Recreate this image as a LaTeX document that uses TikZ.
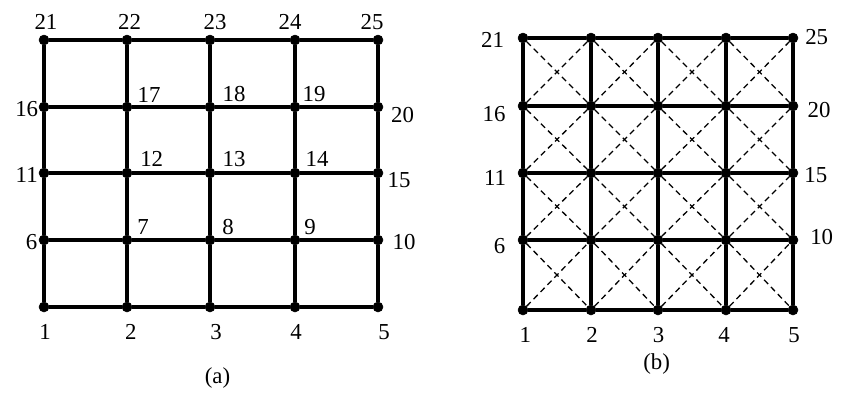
\documentclass[tikz,border=0pt]{standalone}
\usepackage{fontspec}
\setmainfont{Liberation Serif}
\begin{document}
\begin{tikzpicture}[x=0.03cm,y=-0.03cm]

      \tikzset{enclosed/.style={draw, circle, inner sep=0pt, minimum size=.3cm, fill=black},
               lbl/.style={inner sep=0pt, font=\fontsize{19.5}{23}\selectfont},
               solidedge/.style={line width=2.6pt},
               dashedge/.style={line width=1.1pt, dash pattern=on 5pt off 3.5pt}}
      \useasboundingbox (0,0) rectangle (859,409);
%% Vertices (a)
      	\node[enclosed, label={[lbl, shift={(2,-18)}]center:21}] (a21) at (44,40) {};
      	\node[enclosed, label={[lbl, shift={(2.5,-18)}]center:22}] (a22) at (127,40) {};
      	\node[enclosed, label={[lbl, shift={(5,-18)}]center:23}] (a23) at (210,40) {};
      	\node[enclosed, label={[lbl, shift={(-5,-18)}]center:24}] (a24) at (295,40) {};
      	\node[enclosed, label={[lbl, shift={(-6,-18)}]center:25}] (a25) at (378,40) {};
      	\node[enclosed, label={[lbl, shift={(-17.3,2.5)}]center:16}] (a16) at (44,107) {};
      	\node[enclosed, label={[lbl, shift={(22,-12.5)}]center:17}] (a17) at (127,107) {};
      	\node[enclosed, label={[lbl, shift={(24,-12.5)}]center:18}] (a18) at (210,107) {};
      	\node[enclosed, label={[lbl, shift={(19,-12.5)}]center:19}] (a19) at (295,107) {};
      	\node[enclosed, label={[lbl, shift={(24.5,8.5)}]center:20}] (a20) at (378,107) {};
      	\node[enclosed, label={[lbl, shift={(-17.3,2)}]center:11}] (a11) at (44,173) {};
      	\node[enclosed, label={[lbl, shift={(24.7,-14)}]center:12}] (a12) at (127,173) {};
      	\node[enclosed, label={[lbl, shift={(24,-14)}]center:13}] (a13) at (210,173) {};
      	\node[enclosed, label={[lbl, shift={(22,-14)}]center:14}] (a14) at (295,173) {};
      	\node[enclosed, label={[lbl, shift={(21,7)}]center:15}] (a15) at (378,173) {};
      	\node[enclosed, label={[lbl, shift={(-12.3,2)}]center:6}] (a6) at (44,240) {};
      	\node[enclosed, label={[lbl, shift={(16,-13)}]center:7}] (a7) at (127,240) {};
      	\node[enclosed, label={[lbl, shift={(18,-13)}]center:8}] (a8) at (210,240) {};
      	\node[enclosed, label={[lbl, shift={(15,-13)}]center:9}] (a9) at (295,240) {};
      	\node[enclosed, label={[lbl, shift={(26,2.5)}]center:10}] (a10) at (378,240) {};
      	\node[enclosed, label={[lbl, shift={(1,24.7)}]center:1}] (a1) at (44,307) {};
      	\node[enclosed, label={[lbl, shift={(3.8,24.7)}]center:2}] (a2) at (127,307) {};
      	\node[enclosed, label={[lbl, shift={(6,24.7)}]center:3}] (a3) at (210,307) {};
      	\node[enclosed, label={[lbl, shift={(1,24.7)}]center:4}] (a4) at (295,307) {};
      	\node[enclosed, label={[lbl, shift={(6,24.7)}]center:5}] (a5) at (378,307) {};
      	\node[lbl] (capa) at (217.5,378) {(a)};
%Edges (a)
		\draw[solidedge] (a1) -- (a2) -- (a3) -- (a4) -- (a5);
		\draw[solidedge] (a6) -- (a7) -- (a8) -- (a9) -- (a10);
		\draw[solidedge] (a11) -- (a12) -- (a13) -- (a14) -- (a15);
		\draw[solidedge] (a16) -- (a17) -- (a18) -- (a19) -- (a20);
		\draw[solidedge] (a21) -- (a22) -- (a23) -- (a24) -- (a25);
		\draw[solidedge] (a1) -- (a6) -- (a11) -- (a16) -- (a21);
		\draw[solidedge] (a2) -- (a7) -- (a12) -- (a17) -- (a22);
		\draw[solidedge] (a3) -- (a8) -- (a13) -- (a18) -- (a23);
		\draw[solidedge] (a4) -- (a9) -- (a14) -- (a19) -- (a24);
		\draw[solidedge] (a5) -- (a10) -- (a15) -- (a20) -- (a25);

%% Vertices (b)
      	\node[enclosed, label={[lbl, shift={(-30.5,2)}]center:21}] (b21) at (523,38) {};
      	\node[enclosed] (b22) at (591,38) {};
      	\node[enclosed] (b23) at (658,38) {};
      	\node[enclosed] (b24) at (726,38) {};
      	\node[enclosed, label={[lbl, shift={(23.7,-1.3)}]center:25}] (b25) at (793,38) {};
      	\node[enclosed, label={[lbl, shift={(-29,8)}]center:16}] (b16) at (523,106) {};
      	\node[enclosed] (b17) at (591,106) {};
      	\node[enclosed] (b18) at (658,106) {};
      	\node[enclosed] (b19) at (726,106) {};
      	\node[enclosed, label={[lbl, shift={(26,4.5)}]center:20}] (b20) at (793,106) {};
      	\node[enclosed, label={[lbl, shift={(-28,5)}]center:11}] (b11) at (523,173) {};
      	\node[enclosed] (b12) at (591,173) {};
      	\node[enclosed] (b13) at (658,173) {};
      	\node[enclosed] (b14) at (726,173) {};
      	\node[enclosed, label={[lbl, shift={(22.8,2)}]center:15}] (b15) at (793,173) {};
      	\node[enclosed, label={[lbl, shift={(-23.5,6)}]center:6}] (b6) at (523,240) {};
      	\node[enclosed] (b7) at (591,240) {};
      	\node[enclosed] (b8) at (658,240) {};
      	\node[enclosed] (b9) at (726,240) {};
      	\node[enclosed, label={[lbl, shift={(28.7,-3)}]center:10}] (b10) at (793,240) {};
      	\node[enclosed, label={[lbl, shift={(2.3,25)}]center:1}] (b1) at (523,310) {};
      	\node[enclosed, label={[lbl, shift={(1,25)}]center:2}] (b2) at (591,310) {};
      	\node[enclosed, label={[lbl, shift={(0.7,25)}]center:3}] (b3) at (658,310) {};
      	\node[enclosed, label={[lbl, shift={(-2,25)}]center:4}] (b4) at (726,310) {};
      	\node[enclosed, label={[lbl, shift={(1,25)}]center:5}] (b5) at (793,310) {};
      	\node[lbl] (capb) at (656.7,364) {(b)};
%Edges (b), diagonals first
		\draw[dashedge] (b21) -- (b17) -- (b13) -- (b9) -- (b5);
		\draw[dashedge] (b16) -- (b12) -- (b8) -- (b4);
		\draw[dashedge] (b11) -- (b7) -- (b3);
		\draw[dashedge] (b6) -- (b2);
		\draw[dashedge] (b22) -- (b18) -- (b14) -- (b10);
		\draw[dashedge] (b23) -- (b19) -- (b15);
		\draw[dashedge] (b24) -- (b20);
		\draw[dashedge] (b1) -- (b7) -- (b13) -- (b19) -- (b25);
		\draw[dashedge] (b2) -- (b8) -- (b14) -- (b20);
		\draw[dashedge] (b3) -- (b9) -- (b15);
		\draw[dashedge] (b4) -- (b10);
		\draw[dashedge] (b6) -- (b12) -- (b18) -- (b24);
		\draw[dashedge] (b11) -- (b17) -- (b23);
		\draw[dashedge] (b16) -- (b22);
		\draw[solidedge] (b1) -- (b2) -- (b3) -- (b4) -- (b5);
		\draw[solidedge] (b6) -- (b7) -- (b8) -- (b9) -- (b10);
		\draw[solidedge] (b11) -- (b12) -- (b13) -- (b14) -- (b15);
		\draw[solidedge] (b16) -- (b17) -- (b18) -- (b19) -- (b20);
		\draw[solidedge] (b21) -- (b22) -- (b23) -- (b24) -- (b25);
		\draw[solidedge] (b1) -- (b6) -- (b11) -- (b16) -- (b21);
		\draw[solidedge] (b2) -- (b7) -- (b12) -- (b17) -- (b22);
		\draw[solidedge] (b3) -- (b8) -- (b13) -- (b18) -- (b23);
		\draw[solidedge] (b4) -- (b9) -- (b14) -- (b19) -- (b24);
		\draw[solidedge] (b5) -- (b10) -- (b15) -- (b20) -- (b25);

	\end{tikzpicture}
\end{document}
